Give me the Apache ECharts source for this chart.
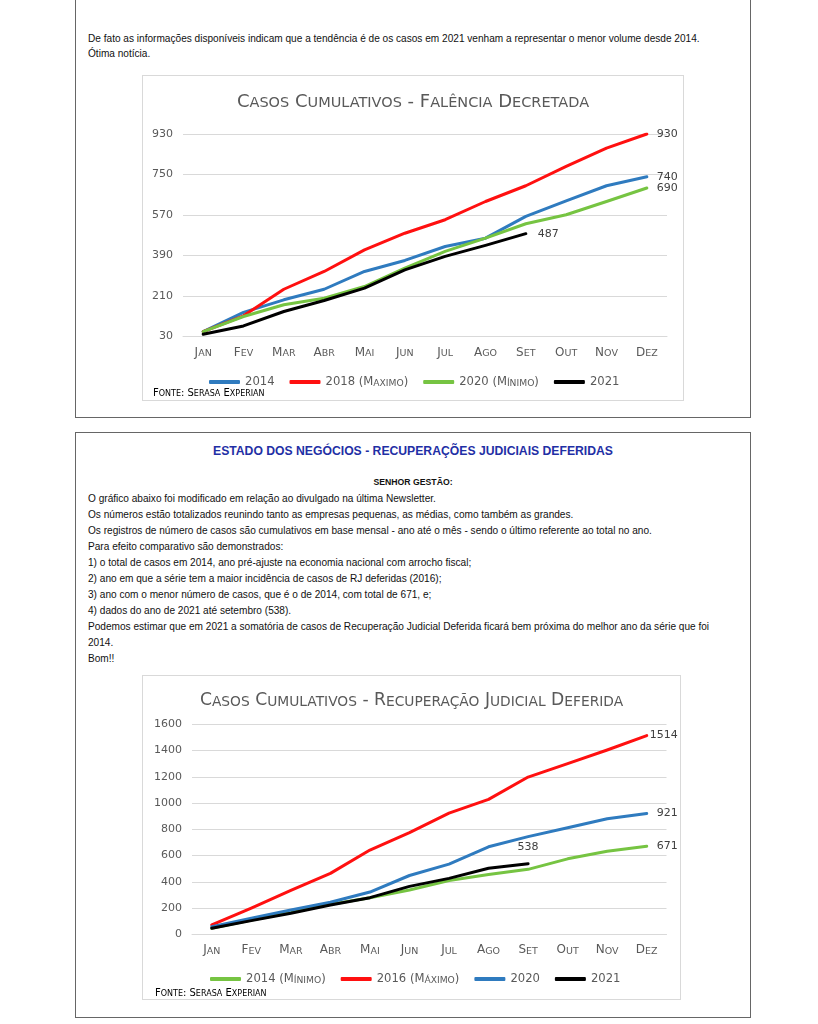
<!DOCTYPE html>
<html><head><meta charset="utf-8">
<script src="https://cdn.jsdelivr.net/npm/echarts@6/dist/echarts.min.js"></script>
<style>
body{margin:0;background:#fff;width:818px;height:1024px;position:relative;overflow:hidden;font-family:"Liberation Sans",Arial,sans-serif;color:#111;}
.panel{position:absolute;left:75px;width:674px;border:1px solid #666;}
#p1{top:-20px;height:436px;}
#p2{top:432px;height:584px;}
.txt{position:absolute;left:88px;font-size:10.1px;line-height:16px;white-space:nowrap;}
.ttl{position:absolute;left:75px;width:676px;text-align:center;font-weight:bold;white-space:nowrap;}
.chart{position:absolute;border:1px solid #d9d9d9;box-sizing:border-box;}
</style></head>
<body>
<div class="panel" id="p1"></div>
<div class="panel" id="p2"></div>
<div class="txt" style="top:31px;line-height:15px;">De fato as informações disponíveis indicam que a tendência é de os casos em 2021 venham a representar o menor volume desde 2014.<br>Ótima notícia.</div>
<div class="ttl" style="top:444px;font-size:12.2px;color:#1f2fa5;">ESTADO DOS NEGÓCIOS - RECUPERAÇÕES JUDICIAIS DEFERIDAS</div>
<div class="ttl" style="top:477px;font-size:8.7px;color:#111;">SENHOR GESTÃO:</div>
<div class="txt" style="top:491px;">O gráfico abaixo foi modificado em relação ao divulgado na última Newsletter.<br>Os números estão totalizados reunindo tanto as empresas pequenas, as médias, como também as grandes.<br>Os registros de número de casos são cumulativos em base mensal - ano até o mês - sendo o último referente ao total no ano.<br>Para efeito comparativo são demonstrados:<br>1) o total de casos em 2014, ano pré-ajuste na economia nacional com arrocho fiscal;<br>2) ano em que a série tem a maior incidência de casos de RJ deferidas (2016);<br>3) ano com o menor número de casos, que é o de 2014, com total de 671, e;<br>4) dados do ano de 2021 até setembro (538).<br>Podemos estimar que em 2021 a somatória de casos de Recuperação Judicial Deferida ficará bem próxima do melhor ano da série que foi<br>2014.<br>Bom!!</div>
<div class="chart" id="c1" style="left:142px;top:75px;width:542px;height:326px;"></div>
<div class="chart" id="c2" style="left:142px;top:675px;width:539px;height:325px;"></div>
<script>
// ---- data ----
const months = ['Jan','Fev','Mar','Abr','Mai','Jun','Jul','Ago','Set','Out','Nov','Dez'];

const title1 = 'Casos Cumulativos - Falência Decretada';
const names1 = ['2014','2018 (Maximo)','2020 (Mínimo)','2021'];
const fal2014 = [52,137,193,240,319,368,430,467,564,633,700,740];
const fal2018 = [52,122,240,319,415,489,549,630,700,786,867,930];
const fal2020 = [52,119,171,200,252,334,408,467,531,571,630,690];
const fal2021 = [40,77,141,190,245,326,386,435,487];
const ticks1 = {min:30, max:930, interval:180};

const title2 = 'Casos Cumulativos - Recuperação Judicial Deferida';
const names2 = ['2014 (Mínimo)','2016 (Máximo)','2020','2021'];
const rj2014 = [46,109,165,228,279,338,410,455,495,575,633,671];
const rj2016 = [71,200,335,464,642,775,923,1028,1198,1300,1404,1514];
const rj2020 = [58,122,185,244,322,448,535,667,744,812,880,921];
const rj2021 = [46,104,160,223,279,365,426,503,538];
const ticks2 = {min:0, max:1600, interval:200};

const source = 'Fonte: Serasa Experian';

// ---- helpers ----
const FF = '"DejaVu Sans", Verdana, sans-serif';
const GRAY = '#595959';
function sc(s, A, B){
  let out = '', cur = null, buf = '';
  for (const ch of s){
    const low = ch !== ch.toUpperCase();
    const st = low ? B : A;
    const c = low ? ch.toUpperCase() : ch;
    if (st !== cur){ if (buf) out += '{' + cur + '|' + buf + '}'; cur = st; buf = ''; }
    buf += c;
  }
  if (buf) out += '{' + cur + '|' + buf + '}';
  return out;
}
function rs(big, small, color){
  return {
    a:{fontSize:big, fontFamily:FF, fontWeight:'normal', color:color, verticalAlign:'bottom'},
    b:{fontSize:small, fontFamily:FF, fontWeight:'normal', color:color, verticalAlign:'bottom'}
  };
}
function withLabel(vals, pos, dist){
  const last = vals.length - 1;
  return vals.map((v,i) => i === last && pos ? {value:v, label:{show:true, position:pos, distance:dist, fontSize:11, fontFamily:FF, color:'#404040'}} : v);
}
function line(name, vals, color, pos, dist){
  return {name:name, type:'line', data:withLabel(vals,pos,dist), symbol:'circle', symbolSize:0, showSymbol:true,
    lineStyle:{color:color, width:3, cap:'round', join:'round'}, itemStyle:{color:color}, emphasis:{disabled:true}, silent:true};
}
function makeOption(cfg){
  return {
    animation:false,
    color:cfg.colors,
    title:{text:sc(cfg.title,'a','b'), left:'center', top:cfg.titleTop,
      textStyle:{fontWeight:'normal', rich:rs(cfg.tBig, cfg.tSmall, GRAY)}},
    legend:{left:cfg.legLeft, top:cfg.legTop, icon:'roundRect', itemWidth:31, itemHeight:4, itemGap:15,
      data:cfg.names, formatter:n => sc(n,'a','b'), textStyle:{rich:rs(11.6, 9.2, GRAY)}, selectedMode:false},
    grid:cfg.grid,
    xAxis:{type:'category', data:months, boundaryGap:true,
      axisLine:{show:true, lineStyle:{color:'#d9d9d9'}}, axisTick:{show:false},
      axisLabel:{interval:0, margin:10, formatter:v => sc(v,'a','b'), rich:rs(12, 9.5, GRAY)}},
    yAxis:{type:'value', min:cfg.ticks.min, max:cfg.ticks.max, interval:cfg.ticks.interval,
      axisLine:{show:false}, axisTick:{show:false},
      axisLabel:{margin:cfg.yMargin, fontSize:11, fontFamily:FF, color:GRAY, formatter:v => String(v)},
      splitLine:{lineStyle:{color:'#d9d9d9', width:1}}},
    graphic:[{type:'text', left:cfg.srcX, top:cfg.srcY,
      style:{text:sc(source,'a','b'), rich:rs(10, 8, '#262626')}}],
    series:cfg.series
  };
}
const BLUE = '#2f7bbf', RED = '#ff1010', GREEN = '#76c442', BLACK = '#000000';

const c1 = echarts.init(document.getElementById('c1'));
c1.setOption(makeOption({
  title:title1, titleTop:12, tBig:18, tSmall:14.5, names:names1, colors:[BLUE,RED,GREEN,BLACK],
  legLeft:61, legTop:295, grid:{left:40, right:16, top:58, bottom:63.5}, ticks:ticks1, yMargin:10,
  srcX:10, srcY:312,
  series:[line(names1[0],fal2014,BLUE,'right',10), line(names1[1],fal2018,RED,'right',10),
          line(names1[2],fal2020,GREEN,'right',10), line(names1[3],fal2021,BLACK,'right',12)]
}));

const c2 = echarts.init(document.getElementById('c2'));
c2.setOption(makeOption({
  title:title2, titleTop:11, tBig:17.2, tSmall:13.8, names:names2, colors:[GREEN,RED,BLUE,BLACK],
  legLeft:62, legTop:292, grid:{left:49, right:13.5, top:48.3, bottom:64.7}, ticks:ticks2, yMargin:10,
  srcX:12, srcY:312,
  series:[line(names2[0],rj2014,GREEN,'right',10), line(names2[1],rj2016,RED,'right',3),
          line(names2[2],rj2020,BLUE,'right',10), line(names2[3],rj2021,BLACK,'top',11)]
}));
</script>
</body></html>
